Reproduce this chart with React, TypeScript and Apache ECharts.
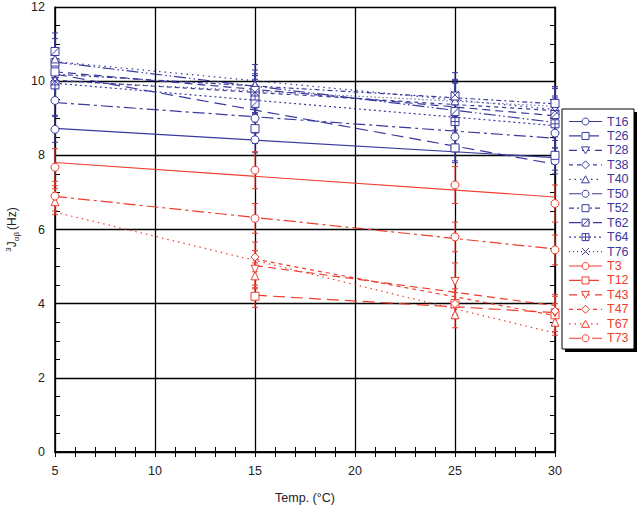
import React, { useEffect, useRef } from "react";
import * as echarts from "echarts";

// ---- data ----
const tempFull = [5, 15, 25, 30];
const tempLate = [15, 25, 30];

const T16 = [8.7, 8.42, 8.2, 7.85];
const T26 = [10.5, 8.72, 8.2, 8.0];
const T28 = [10.3, 9.65, 9.45, 9.0];
const T38 = [10.0, 9.7, 9.5, 9.1];
const T40 = [10.6, 9.9, 9.47, 9.3];
const T50 = [9.48, 9.0, 8.5, 8.6];
const T52 = [10.25, 9.75, 9.6, 9.4];
const T62 = [10.8, 9.4, 9.18, 9.1];
const T64 = [9.9, 9.6, 8.91, 8.85];
const T76 = [10.0, 9.7, 9.63, 9.2];

const T3 = [7.68, 7.6, 7.2, 6.7];
const T12 = [4.2, 4.0, 3.7];
const T43 = [4.93, 4.6, 3.75];
const T47 = [5.26, 4.0, 3.8];
const T67 = [6.75, 4.75, 3.7, 3.5];
const T73 = [6.9, 6.3, 5.8, 5.45];

const blueErr = [0.35, 0.4, 0.5, 0.45, 0.55, 0.4, 0.45, 0.5, 0.45, 0.6];
const redErr = [0.5, 0.3, 0.5, 0.4, 0.35, 0.4];

const xTicks = [5, 10, 15, 20, 25, 30];
const yTicks = [0, 2, 4, 6, 8, 10, 12];

// ---- styles ----
const BLUE = "#3a3a9e";
const RED = "#ef3e2e";

const DASH: Record<string, number[] | null> = {
  solid: null,
  long: [12, 6],
  dash: [8, 5],
  short: [4, 4],
  dot: [1.5, 4],
  dashdot: [12, 4, 3, 4],
  sdashdot: [5, 3, 2, 3],
  dashdotdot: [12, 3, 1.5, 3, 1.5, 3],
  bigdot: [2, 3],
  finedot: [1, 3],
};

type Meta = { name: string; x: number[]; y: number[]; err: number; color: string; dash: string; marker: string };

const seriesMeta: Meta[] = [
  { name: "T16", x: tempFull, y: T16, err: blueErr[0], color: BLUE, dash: "solid", marker: "circle" },
  { name: "T26", x: tempFull, y: T26, err: blueErr[1], color: BLUE, dash: "long", marker: "square" },
  { name: "T28", x: tempFull, y: T28, err: blueErr[2], color: BLUE, dash: "dash", marker: "tdown" },
  { name: "T38", x: tempFull, y: T38, err: blueErr[3], color: BLUE, dash: "short", marker: "diamond" },
  { name: "T40", x: tempFull, y: T40, err: blueErr[4], color: BLUE, dash: "dot", marker: "tup" },
  { name: "T50", x: tempFull, y: T50, err: blueErr[5], color: BLUE, dash: "dashdot", marker: "circle" },
  { name: "T52", x: tempFull, y: T52, err: blueErr[6], color: BLUE, dash: "sdashdot", marker: "square" },
  { name: "T62", x: tempFull, y: T62, err: blueErr[7], color: BLUE, dash: "dashdotdot", marker: "sqslash" },
  { name: "T64", x: tempFull, y: T64, err: blueErr[8], color: BLUE, dash: "bigdot", marker: "sqplus" },
  { name: "T76", x: tempFull, y: T76, err: blueErr[9], color: BLUE, dash: "finedot", marker: "cross" },
  { name: "T3", x: tempFull, y: T3, err: redErr[0], color: RED, dash: "solid", marker: "circle" },
  { name: "T12", x: tempLate, y: T12, err: redErr[1], color: RED, dash: "long", marker: "square" },
  { name: "T43", x: tempLate, y: T43, err: redErr[2], color: RED, dash: "dash", marker: "tdown" },
  { name: "T47", x: tempLate, y: T47, err: redErr[3], color: RED, dash: "short", marker: "diamond" },
  { name: "T67", x: tempFull, y: T67, err: redErr[4], color: RED, dash: "dot", marker: "tup" },
  { name: "T73", x: tempFull, y: T73, err: redErr[5], color: RED, dash: "dashdot", marker: "circle" },
];

const SYMBOL: Record<string, string> = {
  circle: "circle",
  square: "rect",
  tdown: "path://M0,0L10,0L5,9Z",
  diamond: "diamond",
  tup: "triangle",
  sqslash: "path://M0,0L10,0L10,10L0,10Z M0,10L10,0",
  sqplus: "path://M0,0L10,0L10,10L0,10Z M5,0L5,10 M0,5L10,5",
  cross: "path://M0,0L10,10M10,0L0,10",
};

function fit(x: number[], y: number[]) {
  const n = x.length;
  const mx = x.reduce((a, b) => a + b, 0) / n;
  const my = y.reduce((a, b) => a + b, 0) / n;
  let sxy = 0, sxx = 0;
  for (let i = 0; i < n; i++) {
    sxy += (x[i] - mx) * (y[i] - my);
    sxx += (x[i] - mx) * (x[i] - mx);
  }
  const b = sxy / sxx;
  const a = my - b * mx;
  const x0 = Math.min(...x), x1 = Math.max(...x);
  return [[x0, a + b * x0], [x1, a + b * x1]];
}

function markerGraphic(kind: string, cx: number, cy: number, color: string): any[] {
  const st = { fill: "#fff", stroke: color, lineWidth: 1 };
  const ln = (x1: number, y1: number, x2: number, y2: number) => ({
    type: "line", shape: { x1, y1, x2, y2 }, style: { stroke: color, lineWidth: 1 },
  });
  const sq = { type: "rect", shape: { x: cx - 3.5, y: cy - 3.5, width: 7, height: 7 }, style: st };
  switch (kind) {
    case "circle":
      return [{ type: "circle", shape: { cx, cy, r: 3.5 }, style: st }];
    case "square":
      return [sq];
    case "tdown":
      return [{ type: "polygon", shape: { points: [[cx - 4, cy - 3.5], [cx + 4, cy - 3.5], [cx, cy + 3.5]] }, style: st }];
    case "tup":
      return [{ type: "polygon", shape: { points: [[cx - 4, cy + 3.5], [cx + 4, cy + 3.5], [cx, cy - 3.5]] }, style: st }];
    case "diamond":
      return [{ type: "polygon", shape: { points: [[cx, cy - 4], [cx + 4, cy], [cx, cy + 4], [cx - 4, cy]] }, style: st }];
    case "sqslash":
      return [sq, ln(cx - 3.5, cy + 3.5, cx + 3.5, cy - 3.5)];
    case "sqplus":
      return [sq, ln(cx, cy - 3.5, cx, cy + 3.5), ln(cx - 3.5, cy, cx + 3.5, cy)];
    case "cross":
      return [ln(cx - 3.5, cy - 3.5, cx + 3.5, cy + 3.5), ln(cx + 3.5, cy - 3.5, cx - 3.5, cy + 3.5)];
  }
  return [];
}

function buildLegend(): any[] {
  const bx = 562, by = 109, bw = 72, bh = 240;
  const els: any[] = [
    { type: "rect", shape: { x: bx + 3, y: by + 3, width: bw, height: bh }, style: { fill: "#000" }, z: 100 },
    { type: "rect", shape: { x: bx, y: by, width: bw, height: bh }, style: { fill: "#fff", stroke: "#000", lineWidth: 1 }, z: 101 },
  ];
  seriesMeta.forEach((m, i) => {
    const y = by + 12.5 + i * 14.45;
    els.push({
      type: "line", z: 102,
      shape: { x1: 569, y1: y, x2: 602, y2: y },
      style: { stroke: m.color, lineWidth: 1.2, lineDash: DASH[m.dash] || null },
    });
    markerGraphic(m.marker, 585.5, y, m.color).forEach((e) => els.push({ ...e, z: 103 }));
    els.push({
      type: "text", z: 103, x: 607, y,
      style: { text: m.name, fill: m.color, fontSize: 12.5, fontFamily: "Liberation Sans, Arial, sans-serif", verticalAlign: "middle" },
    });
  });
  return els;
}

export default function App() {
  const ref = useRef<HTMLDivElement>(null);
  useEffect(() => {
    if (!ref.current) return;
    const chart = echarts.init(ref.current, null, { renderer: "svg" });

    const errData: any[] = [];
    seriesMeta.forEach((m) => {
      m.x.forEach((xv, i) => {
        errData.push([xv, m.y[i] - m.err, m.y[i] + m.err, m.color === BLUE ? 0 : 1]);
      });
    });

    const series: any[] = [];
    series.push({
      type: "custom",
      name: "err",
      data: errData,
      encode: { x: 0, y: [1, 2] },
      z: 3,
      silent: true,
      renderItem: (params: any, api: any) => {
        const x = api.value(0);
        const p1 = api.coord([x, api.value(1)]);
        const p2 = api.coord([x, api.value(2)]);
        const c = api.value(3) === 0 ? BLUE : RED;
        const st = { stroke: c, lineWidth: 1 };
        return {
          type: "group",
          children: [
            { type: "line", shape: { x1: p1[0], y1: p1[1], x2: p2[0], y2: p2[1] }, style: st },
            { type: "line", shape: { x1: p1[0] - 3, y1: p1[1], x2: p1[0] + 3, y2: p1[1] }, style: st },
            { type: "line", shape: { x1: p2[0] - 3, y1: p2[1], x2: p2[0] + 3, y2: p2[1] }, style: st },
          ],
        };
      },
    });

    seriesMeta.forEach((m) => {
      series.push({
        type: "line",
        name: m.name + " fit",
        data: fit(m.x, m.y),
        showSymbol: false,
        silent: true,
        z: 2,
        lineStyle: { color: m.color, width: 1.2, type: DASH[m.dash] || "solid" },
      });
    });
    seriesMeta.forEach((m) => {
      series.push({
        type: "scatter",
        name: m.name,
        data: m.x.map((xv, i) => [xv, m.y[i]]),
        symbol: SYMBOL[m.marker],
        symbolSize: 8,
        z: 4,
        itemStyle: { color: "#fff", borderColor: m.color, borderWidth: 1, opacity: 1 },
      });
    });

    const axisFont = { fontSize: 12.5, color: "#222", fontFamily: "Liberation Sans, Arial, sans-serif" };
    const lineBlack = { show: true, lineStyle: { color: "#000", width: 1.5 } };

    chart.setOption({
      animation: false,
      backgroundColor: "#fff",
      grid: { left: 55, right: 85, top: 7, bottom: 53, containLabel: false, outerBoundsMode: "none" },
      xAxis: [
        {
          type: "value", min: xTicks[0], max: xTicks[xTicks.length - 1], interval: 5, position: "bottom",
          axisLine: lineBlack,
          axisTick: { show: true, inside: true, length: 5, lineStyle: { color: "#000" } },
          minorTick: { show: true, splitNumber: 5, length: 5, lineStyle: { color: "#000" } },
          splitLine: { show: true, lineStyle: { color: "#000", width: 1.3 } },
          axisLabel: { ...axisFont, margin: 12 },
          name: "Temp. (°C)", nameLocation: "middle", nameGap: 39,
          nameTextStyle: { ...axisFont },
        },
        {
          type: "value", min: xTicks[0], max: xTicks[xTicks.length - 1], interval: 5, position: "top",
          axisLine: lineBlack,
          axisTick: { show: true, inside: true, length: 5, lineStyle: { color: "#000" } },
          minorTick: { show: true, splitNumber: 5, length: 5, lineStyle: { color: "#000" } },
          splitLine: { show: false },
          axisLabel: { show: false },
        },
      ],
      yAxis: [
        {
          type: "value", min: yTicks[0], max: yTicks[yTicks.length - 1], interval: 2, position: "left",
          axisLine: lineBlack,
          axisTick: { show: true, inside: true, length: 5, lineStyle: { color: "#000" } },
          minorTick: { show: true, splitNumber: 4, length: 5, lineStyle: { color: "#000" } },
          splitLine: { show: true, lineStyle: { color: "#000", width: 1.3 } },
          axisLabel: { ...axisFont, margin: 10 },
          name: "{sup|3}{main|J}{sub|αβ}{main|(Hz)}",
          nameLocation: "middle", nameGap: 34,
          nameTextStyle: {
            ...axisFont,
            rich: {
              sup: { fontSize: 8, verticalAlign: "top", lineHeight: 16, color: "#222", fontFamily: "Liberation Sans, Arial, sans-serif" },
              main: { fontSize: 12, lineHeight: 16, color: "#222", fontFamily: "Liberation Sans, Arial, sans-serif" },
              sub: { fontSize: 8, verticalAlign: "bottom", lineHeight: 16, color: "#222", fontFamily: "Liberation Sans, Arial, sans-serif", padding: [0, 2, 0, 0] },
            },
          },
        },
        {
          type: "value", min: yTicks[0], max: yTicks[yTicks.length - 1], interval: 2, position: "right",
          axisLine: lineBlack,
          axisTick: { show: true, inside: true, length: 5, lineStyle: { color: "#000" } },
          minorTick: { show: true, splitNumber: 4, length: 5, lineStyle: { color: "#000" } },
          splitLine: { show: false },
          axisLabel: { show: false },
        },
      ],
      series,
      graphic: buildLegend(),
    });

    return () => chart.dispose();
  }, []);

  return (
    <div
      ref={ref}
      style={{ position: "fixed", left: 0, top: 0, width: 640, height: 505, background: "#fff" }}
    />
  );
}
